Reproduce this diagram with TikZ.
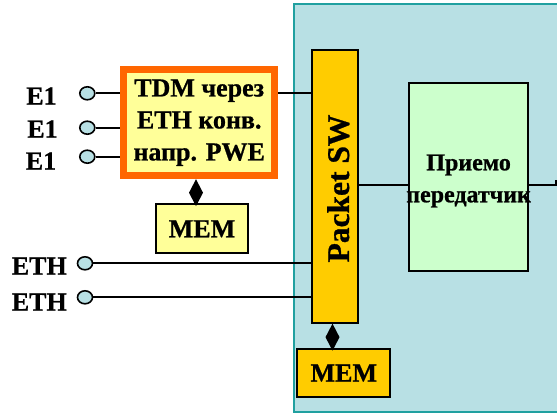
\documentclass[tikz,border=0pt]{standalone}
\usepackage{fontspec}
\setmainfont{Liberation Serif}[BoldFeatures={FakeBold=0.8}]
\usetikzlibrary{arrows.meta,shapes.geometric}
\pgfdeclarelayer{bg}
\pgfdeclarelayer{wires}
\pgfsetlayers{bg,wires,main}
\definecolor{panel}{HTML}{B8E0E4}
\definecolor{panelb}{HTML}{20A0A0}
\definecolor{orng}{HTML}{FF6600}
\definecolor{lyel}{HTML}{FFFF99}
\definecolor{gold}{HTML}{FFCC00}
\definecolor{lgrn}{HTML}{CCFFCC}
\begin{document}
\begin{tikzpicture}[x=1pt,y=-1pt,
  box/.style={draw=black, line width=1.8pt, inner sep=0pt, text=black, align=center,
    font=\bfseries\fontsize{26}{32}\selectfont},
  port/.style={ellipse, draw=black, fill=panel, minimum width=15pt, minimum height=13pt,
    line width=1.6pt, inner sep=0pt},
  lbl/.style={inner sep=0pt, font=\bfseries\fontsize{26}{28}\selectfont},
  wire/.style={line width=1.8pt},
  link/.style={line width=1.8pt, -{Diamond[length=27pt,width=14pt]}}
]
\useasboundingbox (0,0) rectangle (557,415);
\clip (0,0) rectangle (557,415);
\begin{pgfonlayer}{bg}
  \draw[fill=panel, draw=panelb, line width=1.8pt] (294,4) rectangle (575,412);
\end{pgfonlayer}

% nodes
\node[box, draw=orng, line width=7pt, fill=lyel, minimum width=151pt, minimum height=106pt]
  (tdm) at (199.2,122.7) {TDM через\\ETH конв.\\напр. PWE};
\node[box, fill=lyel, minimum width=92.6pt, minimum height=49pt] (tmem) at (202,228.8) {MEM};
\node[box, fill=gold, minimum width=46pt, minimum height=272.7pt] (psw) at (335.3,186.4) {};
\node[inner sep=0pt, rotate=90, font=\bfseries\fontsize{31.5}{32}\selectfont] (pswt) at (338.3,188.5) {Packet SW};
\node[box, fill=gold, minimum width=93pt, minimum height=48.6pt] (bmem) at (343.8,373) {MEM};
\node[box, fill=lgrn, minimum width=118.7pt, minimum height=188pt] (rx) at (468.3,176.7) {};
\node[inner sep=0pt, align=center, font=\bfseries\fontsize{24}{32}\selectfont] (rxt) at (468.6,181) {Приемо\\передатчик};

% ports
\node[port] (p1) at (87.3,93.3) {};
\node[port] (p2) at (87.3,127.7) {};
\node[port] (p3) at (87.3,156.7) {};
\node[port] (p4) at (85,263.3) {};
\node[port] (p5) at (85,297.3) {};
\node[lbl] (l1) at (41.5,96) {E1};
\node[lbl] (l2) at (42.5,129) {E1};
\node[lbl] (l3) at (41,161) {E1};
\node[lbl] (l4) at (39.3,266) {ETH};
\node[lbl] (l5) at (39.3,302) {ETH};

\coordinate (yl) at (0,185);
\coordinate (d1) at (196,0);
\coordinate (d2) at (332.5,0);
\coordinate (redge) at (556.3,185);

\begin{pgfonlayer}{wires}
  \draw[wire] (p1.east) -- (tdm.west |- p1);
  \draw[wire] (p2.east) -- (tdm.west |- p2);
  \draw[wire] (p3.east) -- (tdm.west |- p3);
  \draw[wire] (tdm.east |- p1) -- (psw.west |- p1);
  \draw[wire] (p4.east) -- (psw.west |- p4);
  \draw[wire] (p5.east) -- (psw.west |- p5);
  \draw[wire] (psw.east |- yl) -- (rx.west |- yl);
  \draw[wire] (rx.east |- yl) -- (redge) -- ++(0,-5);
\end{pgfonlayer}
\draw[link] (tmem.north -| d1) -- (tdm.south -| d1);
\draw[link] (bmem.north -| d2) -- (psw.south -| d2);
\end{tikzpicture}
\end{document}
